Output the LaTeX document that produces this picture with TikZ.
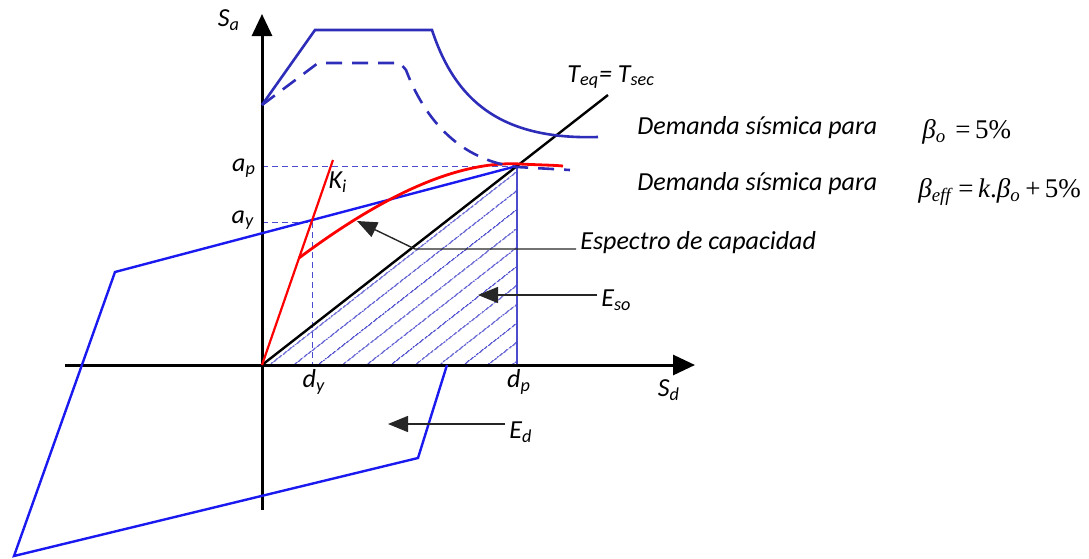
\documentclass[tikz,border=0pt]{standalone}
\usepackage{fontspec}
\setmainfont{Carlito}
\newfontfamily\timesfont{Liberation Serif}
\usetikzlibrary{arrows.meta, patterns.meta, positioning}

\definecolor{demblue}{RGB}{45,45,185}
\definecolor{capblue}{RGB}{25,25,240}
\definecolor{hatchblue}{RGB}{75,75,205}

\begin{document}
\begin{tikzpicture}[
        x=0.5pt, y=-0.5pt,
        axis/.style={line width=1.5pt, -{Triangle[length=11pt, width=10pt]}},
        demand/.style={demblue, line width=1.3pt},
        guide/.style={hatchblue, line width=0.5pt, dash pattern=on 3pt off 2pt},
        pointer/.style={line width=0.7pt, black!85, -{Triangle[length=10pt, width=8pt]}},
        lbl/.style={font=\itshape\fontsize{13}{15}\selectfont, inner sep=2pt},
        formula/.style={font=\timesfont\fontsize{13.5}{15}\selectfont, inner sep=2pt}
    ]
        \useasboundingbox (0,0) rectangle (1089,558);

        % Key points
        \coordinate (O) at (262,365);
        \coordinate (P) at (517,166);
        \coordinate (Y) at (312,222);

        % Hatched area E_so
        \fill[pattern={Lines[angle=38, distance=7.4pt, line width=0.65pt]}, pattern color=hatchblue]
            (O) -- (P) -- (P |- O) -- cycle;
        \draw[hatchblue, line width=0.6pt] (P) -- (P |- O);

        % Guide lines to the axes
        \draw[guide] (O |- P) -- (P);
        \draw[guide] (O |- Y) -- (Y) -- (Y |- O);

        % Axes
        \draw[axis] (262,510) -- (262,14);
        \draw[axis] (65,365) -- (695,365);

        % Bilinear capacity and hysteresis loop
        \draw[capblue, line width=1.2pt] (447,365) -- (418,458) -- (14,556) -- (115,272) -- (P);

        % Secant period
        \draw[line width=1.2pt] (O) -- (608,95);

        % Capacity spectrum
        \draw[red, line width=1.1pt] (O) -- (333,160);
        \draw[red, line width=1.4pt] (299,258) .. controls (370,205) and (450,160) .. (520,164)
            .. controls (540,165) and (552,165) .. (563,166);

        % Demand spectra
        \draw[demand] (262,105) -- (315,30) -- (432,30) .. controls (455,100) and (500,140) .. (598,137);
        \draw[demand, dash pattern=on 8pt off 5pt] (262,105) -- (318,63) -- (400,63) -- (406,70)
            .. controls (425,120) and (460,160) .. (517,167) -- (570,170);

        % Axis and point labels
        \node[lbl] (sa) at (229,20) {S\textsubscript{a}};
        \node[lbl] (sd) at (669,390) {S\textsubscript{d}};
        \node[lbl] (ap) at (244,168) {a\textsubscript{p}};
        \node[lbl] (ay) at (243,220) {a\textsubscript{y}};
        \node[lbl] (ki) at (338,182) {K\textsubscript{i}};
        \node[lbl] (dy) at (314,382) {d\textsubscript{y}};
        \node[lbl] (dp) at (519,382) {d\textsubscript{p}};
        \node[lbl, anchor=west] (teq) at (563,77) {T\textsubscript{eq}= T\textsubscript{sec}};

        % Demand legends
        \node[lbl, anchor=west] (dem1) at (633,128) {Demanda sísmica para};
        \node[formula, anchor=west] (beta1) at (918,132) {\textit{β}\textsubscript{\textit{o}}\,\,=\,5\%};
        \node[lbl, anchor=west] (dem2) at (633,184) {Demanda sísmica para};
        \node[formula, anchor=west] (beta2) at (914,192) {\textit{β}\textsubscript{\textit{eff}}\,=\,\textit{k}.\textit{β}\textsubscript{\textit{o}}\,+\,5\%};

        % Pointers
        \coordinate (capbend) at (415,249);
        \coordinate (captip) at (357,221);
        \node[lbl, anchor=west] (esp) at (576,243) {Espectro de capacidad};
        \draw[pointer] (esp.west |- capbend) -- (capbend) -- (captip);

        \node[lbl, anchor=west] (eso) at (597,300) {E\textsubscript{so}};
        \coordinate (esotip) at (478,295);
        \draw[pointer] (eso.west |- esotip) -- (esotip);

        \node[lbl, anchor=west] (ed) at (505,432) {E\textsubscript{d}};
        \coordinate (edtip) at (388,424);
        \draw[pointer] (ed.west |- edtip) -- (edtip);

    \end{tikzpicture}
\end{document}
